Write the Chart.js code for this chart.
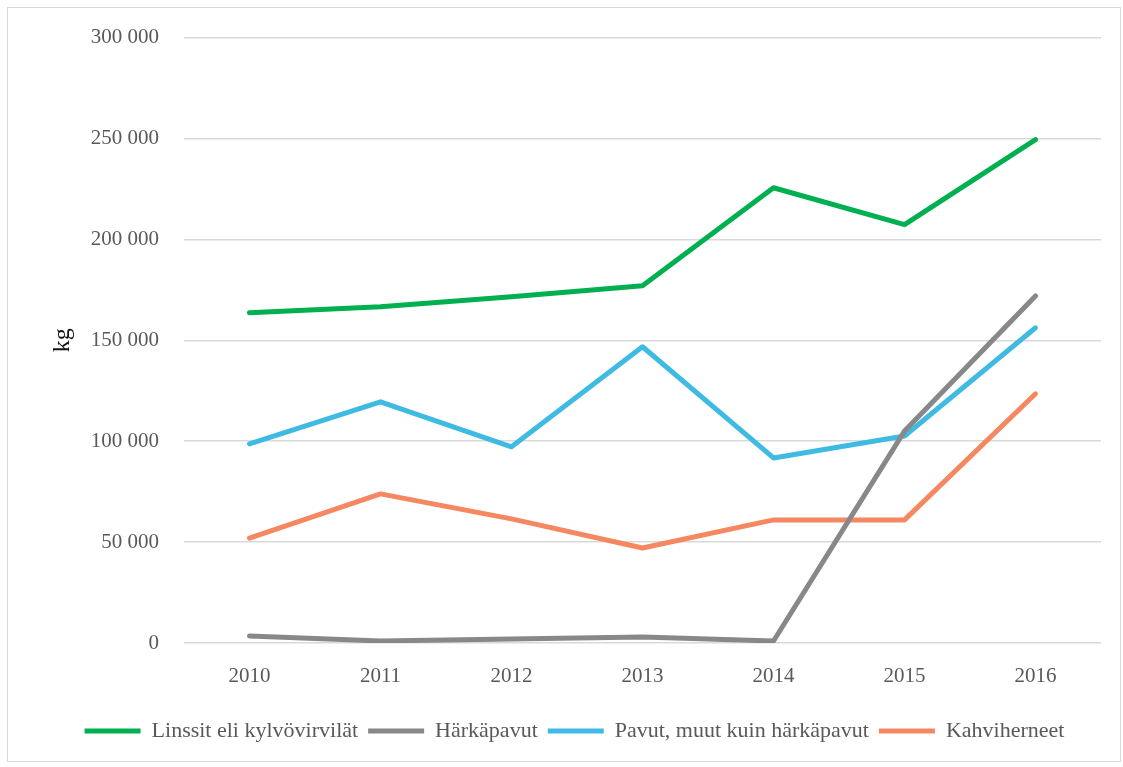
<!DOCTYPE html>
<html lang="fi">
<head>
  <meta charset="UTF-8" />
  <title>Palkokasvit</title>
  <style>
    body {
      margin: 0;
      background: #ffffff;
    }
    .frame {
      position: absolute;
      left: 7px;
      top: 7px;
      width: 1114px;
      height: 755px;
      border: 1.5px solid #d9d9d9;
      box-sizing: border-box;
    }
    .chart-box {
      position: absolute;
      left: 0;
      top: 0;
      width: 1123px;
      height: 767px;
    }
  </style>
</head>
<body>
  <div class="frame"></div>
  <div class="chart-box">
    <canvas id="chart"></canvas>
  </div>

  <script src="https://cdn.jsdelivr.net/npm/chart.js"></script>
  <script>
const years = ["2010", "2011", "2012", "2013", "2014", "2015", "2016"];

const linssit = [163600, 166600, 171600, 177000, 225600, 207300, 249400];
const harkapavut = [3500, 1000, 2000, 3000, 1000, 105000, 172000];
const pavut = [98700, 119500, 97200, 146800, 91700, 102600, 156200];
const kahviherneet = [52000, 73900, 61500, 47100, 61000, 61000, 123500];

const yTicks = [0, 50000, 100000, 150000, 200000, 250000, 300000];

const serif = "'Liberation Serif', 'DejaVu Serif', serif";

function fmt(v) {
  return v.toString().replace(/\B(?=(\d{3})+(?!\d))/g, " ");
}

function line(label, data, color) {
  return {
    label: label,
    data: data,
    borderColor: color,
    backgroundColor: color,
    borderWidth: 5,
    borderCapStyle: "round",
    borderJoinStyle: "round",
    pointRadius: 0,
    pointStyle: "line",
    tension: 0
  };
}

new Chart(document.getElementById("chart"), {
  type: "line",
  data: {
    labels: years,
    datasets: [
      line("Linssit eli kylvövirvilät", linssit, "#00b050"),
      line("Härkäpavut", harkapavut, "#888888"),
      line("Pavut, muut kuin härkäpavut", pavut, "#3fbbe3"),
      line("Kahviherneet", kahviherneet, "#f58860")
    ]
  },
  options: {
    responsive: true,
    maintainAspectRatio: false,
    animation: false,
    layout: { padding: { left: 48, right: 22, top: 28, bottom: 15 } },
    scales: {
      x: {
        offset: true,
        grid: { display: false, drawTicks: false },
        border: { display: false },
        ticks: {
          color: "#595959",
          font: { family: serif, size: 21 },
          padding: 21
        },
        afterFit: s => { s.height = 67; }
      },
      y: {
        min: 0,
        max: 300000,
        afterBuildTicks: s => { s.ticks = yTicks.map(v => ({ value: v })); },
        grid: { color: "#d9d9d9", lineWidth: 1.5, drawTicks: false },
        border: { display: false },
        ticks: {
          color: "#595959",
          font: { family: serif, size: 21 },
          padding: 25,
          callback: v => fmt(v)
        },
        title: {
          display: true,
          text: "kg",
          color: "#111",
          font: { family: serif, size: 24 },
          padding: 0
        },
        afterFit: s => { s.width = 136; }
      }
    },
    plugins: {
      legend: {
        position: "bottom",
        labels: {
          usePointStyle: true,
          pointStyleWidth: 56,
          color: "#595959",
          font: { family: serif, size: 22 },
          padding: 10
        }
      },
      tooltip: { enabled: false }
    }
  }
});
  </script>
</body>
</html>
